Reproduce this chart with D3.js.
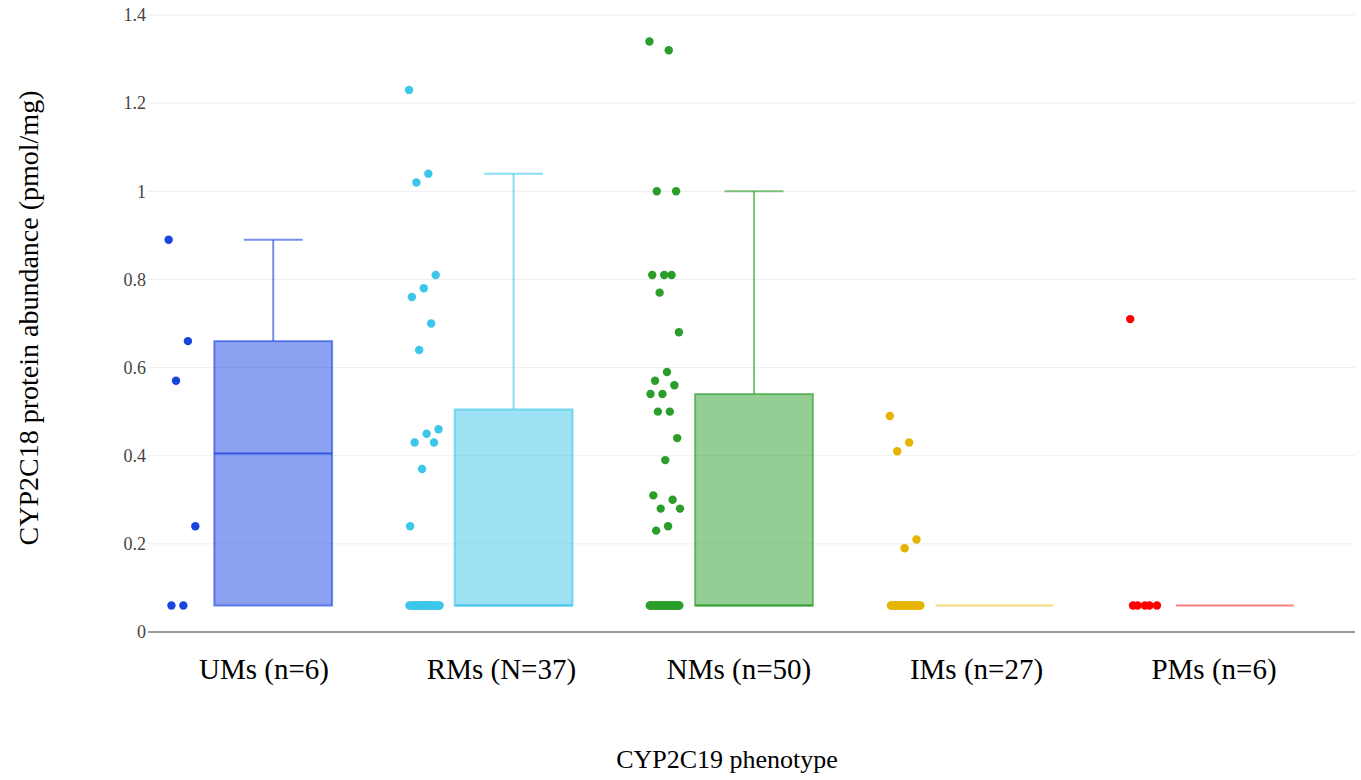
<!DOCTYPE html>
<html>
<head>
    <script src="https://d3js.org/d3.v7.min.js"></script>
    <style type="text/css">
        body { margin: 0; background: white; }
        .tick-label { font-family: "Liberation Serif", serif; font-size: 18px; fill: #444; }
        .cat-label { font-family: "Liberation Serif", serif; font-size: 29px; fill: #000; }
        .axis-title { font-family: "Liberation Serif", serif; fill: #000; }
    </style>
</head>
<body>
<script type="text/javascript">

    // categories and colours
    var categories = ["UMs (n=6)", "RMs (N=37)", "NMs (n=50)", "IMs (n=27)", "PMs (n=6)"];
    var colors = ["#1a44e0", "#3cc6ea", "#2a9d2a", "#e6b400", "#ff0000"];

    // points (pmol/mg)
    var umsValues = [0.89, 0.66, 0.57, 0.24, 0.06, 0.06];
    var rmsValues = [1.23, 1.04, 1.02, 0.81, 0.78, 0.76, 0.70, 0.64, 0.46, 0.45, 0.43, 0.43, 0.37, 0.24,
                     0.06, 0.06, 0.06, 0.06, 0.06, 0.06, 0.06, 0.06, 0.06, 0.06, 0.06, 0.06,
                     0.06, 0.06, 0.06, 0.06, 0.06, 0.06, 0.06, 0.06, 0.06, 0.06, 0.06];
    var nmsValues = [1.34, 1.32, 1.00, 1.00, 0.81, 0.81, 0.81, 0.77, 0.68, 0.59, 0.57, 0.56, 0.54, 0.54,
                     0.50, 0.50, 0.44, 0.39, 0.31, 0.30, 0.28, 0.28, 0.24, 0.23,
                     0.06, 0.06, 0.06, 0.06, 0.06, 0.06, 0.06, 0.06, 0.06, 0.06, 0.06, 0.06, 0.06,
                     0.06, 0.06, 0.06, 0.06, 0.06, 0.06, 0.06, 0.06, 0.06, 0.06, 0.06, 0.06, 0.06];
    var imsValues = [0.49, 0.43, 0.41, 0.21, 0.19,
                     0.06, 0.06, 0.06, 0.06, 0.06, 0.06, 0.06, 0.06, 0.06, 0.06, 0.06,
                     0.06, 0.06, 0.06, 0.06, 0.06, 0.06, 0.06, 0.06, 0.06, 0.06, 0.06];
    var pmsValues = [0.71, 0.06, 0.06, 0.06, 0.06, 0.06];
    var groupValues = [umsValues, rmsValues, nmsValues, imsValues, pmsValues];

    // box statistics
    var boxLow = [0.06, 0.06, 0.06, 0.06, 0.06];
    var boxQ1 = [0.06, 0.06, 0.06, 0.06, 0.06];
    var boxMedian = [0.405, 0.06, 0.06, 0.06, 0.06];
    var boxQ3 = [0.66, 0.505, 0.54, 0.06, 0.06];
    var boxHigh = [0.89, 1.04, 1.00, 0.06, 0.06];

    var yTicks = [0, 0.2, 0.4, 0.6, 0.8, 1, 1.2, 1.4];

    var w = 1361;
    var h = 780;
    var plotLeft = 148, plotRight = 1355, plotTop = 15, plotBottom = 632;

    var svg = d3.select("body")
        .append("svg")
        .attr("width", w)
        .attr("height", h);

    // groups sit a little right of the axis start
    var xScale = d3.scaleBand()
        .domain(categories)
        .range([plotLeft + 5, plotRight])
        .padding(0);

    // tick labels are placed on their own points
    var labelScale = d3.scalePoint()
        .domain(categories)
        .range([264, 1214]);

    var yScale = d3.scaleLinear()
        .domain([0, 1.4])
        .range([plotBottom, plotTop]);

    var bw = xScale.bandwidth();
    var boxW = bw * 0.49;

    // grid
    svg.selectAll("line.grid")
        .data(yTicks.filter(function(d) { return d > 0; }))
        .enter()
        .append("line")
        .attr("class", "grid")
        .attr("x1", plotLeft)
        .attr("x2", plotRight)
        .attr("y1", function(d) { return yScale(d); })
        .attr("y2", function(d) { return yScale(d); })
        .attr("stroke", "#eeeeee")
        .attr("stroke-width", 1);

    // zero line
    svg.append("line")
        .attr("x1", plotLeft)
        .attr("x2", plotRight)
        .attr("y1", yScale(0))
        .attr("y2", yScale(0))
        .attr("stroke", "#999")
        .attr("stroke-width", 2);

    // y tick labels
    svg.selectAll("text.tick-label")
        .data(yTicks)
        .enter()
        .append("text")
        .attr("class", "tick-label")
        .attr("x", plotLeft - 2)
        .attr("y", function(d) { return yScale(d); })
        .attr("dy", "0.35em")
        .attr("text-anchor", "end")
        .text(function(d) { return d3.format("~g")(d); });

    // boxes
    categories.forEach(function(cat, i) {
        var cx = xScale(cat) + bw / 2;
        var g = svg.append("g");
        var col = colors[i];
        var flat = boxQ3[i] <= boxQ1[i];

        if (!flat) {
            // whiskers
            g.append("line")
                .attr("x1", cx).attr("x2", cx)
                .attr("y1", yScale(boxQ3[i])).attr("y2", yScale(boxHigh[i]))
                .attr("stroke", col).attr("stroke-opacity", 0.6).attr("stroke-width", 2);
            g.append("line")
                .attr("x1", cx - boxW / 4).attr("x2", cx + boxW / 4)
                .attr("y1", yScale(boxHigh[i])).attr("y2", yScale(boxHigh[i]))
                .attr("stroke", col).attr("stroke-opacity", 0.6).attr("stroke-width", 2);
            g.append("line")
                .attr("x1", cx).attr("x2", cx)
                .attr("y1", yScale(boxQ1[i])).attr("y2", yScale(boxLow[i]))
                .attr("stroke", col).attr("stroke-opacity", 0.6).attr("stroke-width", 2);

            // box
            g.append("rect")
                .attr("x", cx - boxW / 2)
                .attr("y", yScale(boxQ3[i]))
                .attr("width", boxW)
                .attr("height", yScale(boxQ1[i]) - yScale(boxQ3[i]))
                .attr("fill", col)
                .attr("fill-opacity", 0.5)
                .attr("stroke", col)
                .attr("stroke-opacity", 0.6)
                .attr("stroke-width", 2);
        }

        // median
        g.append("line")
            .attr("x1", cx - boxW / 2).attr("x2", cx + boxW / 2)
            .attr("y1", yScale(boxMedian[i])).attr("y2", yScale(boxMedian[i]))
            .attr("stroke", col).attr("stroke-opacity", flat ? 0.5 : 0.8)
            .attr("stroke-width", 2);

        // points, shifted left of the box with a fixed jitter
        var px = cx - bw * 0.37;
        g.selectAll("circle")
            .data(groupValues[i])
            .enter()
            .append("circle")
            .attr("cx", function(d, j) {
                var jit = ((j * 0.6180339) % 1) - 0.5;
                return px + jit * bw * 0.13;
            })
            .attr("cy", function(d) { return yScale(d); })
            .attr("r", 4.2)
            .attr("fill", col);
    });

    // category labels
    svg.selectAll("text.cat-label")
        .data(categories)
        .enter()
        .append("text")
        .attr("class", "cat-label")
        .attr("x", function(d) { return labelScale(d); })
        .attr("y", 679)
        .attr("text-anchor", "middle")
        .text(function(d) { return d; });

    // axis titles
    svg.append("text")
        .attr("class", "axis-title")
        .attr("x", 727)
        .attr("y", 768)
        .attr("text-anchor", "middle")
        .style("font-size", "26px")
        .text("CYP2C19 phenotype");

    svg.append("text")
        .attr("class", "axis-title")
        .attr("transform", "translate(38,318) rotate(-90)")
        .attr("text-anchor", "middle")
        .style("font-size", "28px")
        .text("CYP2C18 protein abundance (pmol/mg)");

</script>
</body>
</html>
